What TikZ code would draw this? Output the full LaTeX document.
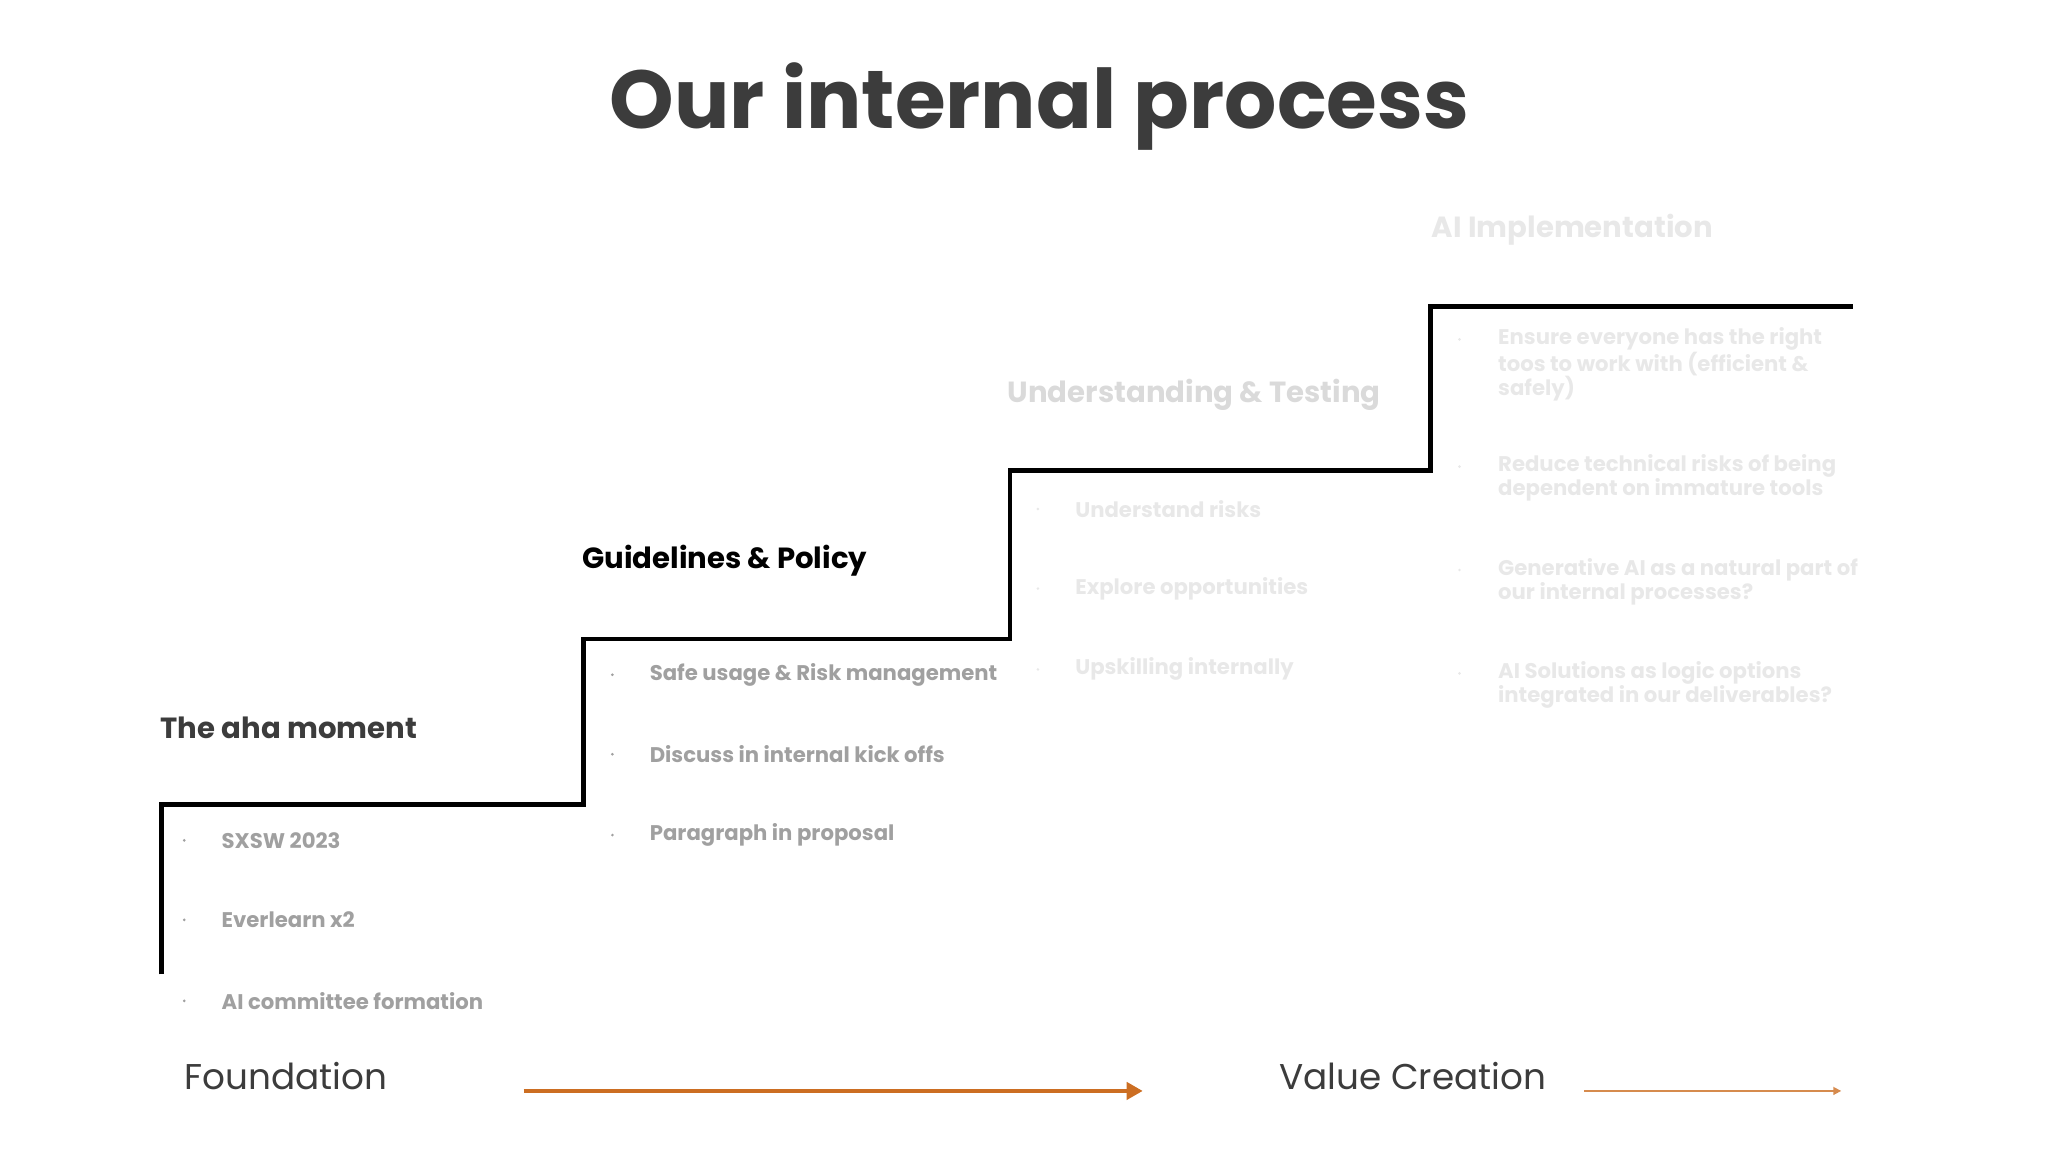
\documentclass[tikz,border=0pt]{standalone}
\usepackage{fontspec}
\setmainfont{Poppins}
\usetikzlibrary{arrows.meta}
\definecolor{dark}{HTML}{3C3C3C}
\definecolor{bul}{HTML}{A0A0A0}
\definecolor{lt}{HTML}{DADADA}
\definecolor{vlt}{HTML}{E8E8E8}
\definecolor{org}{HTML}{CC6E22}
\tikzset{
  head/.style={anchor=west,font=\fontsize{22}{26}\selectfont\bfseries,inner sep=0pt},
  item/.style={anchor=west,font=\fontsize{16}{18}\selectfont\bfseries,inner sep=0pt,align=left},
  dotm/.style={circle,inner sep=0pt,minimum size=2.2pt},
  lbl/.style={anchor=west,font=\fontsize{27}{30}\selectfont,text=dark,inner sep=0pt},
}
\begin{document}
\begin{tikzpicture}[x=1pt,y=-1pt]
\useasboundingbox (0,0) rectangle (1545,869);
\node (title) at (784,80) {\fontsize{62}{70}\selectfont\bfseries\color{dark}Our internal process};
% staircase
\coordinate (s0) at (122,735);
\coordinate (s1) at (122,607);
\coordinate (s2) at (440,607);
\coordinate (s3) at (440,482);
\coordinate (s4) at (762,482);
\coordinate (s5) at (762,355);
\coordinate (s6) at (1079,355);
\coordinate (s7) at (1079,231);
\coordinate (s8) at (1398,231);
\draw[line width=3.5pt] (s0)--(s1)--(s2)--(s3)--(s4)--(s5)--(s6)--(s7)--(s8);
% headings
\node[head,text=dark] (h1) at (121,549) {The aha moment};
\node[head,text=black] (h2) at (439,423) {Guidelines \& Policy};
\node[head,text=lt] (h3) at (760,298) {Understanding \& Testing};
\node[head,text=vlt] (h4) at (1080,173) {AI Implementation};
\foreach \t/\y [count=\i] in {SXSW 2023/634,Everlearn x2/694,AI committee formation/755}{
  \node[dotm,fill=bul] (d1\i) at (139,\y) {};
  \node[item,text=bul] (a1\i) at (167,\y) {\t};
}
\foreach \t/\y [count=\i] in {Safe usage \& Risk management/509,Discuss in internal kick offs/569,Paragraph in proposal/630}{
  \node[dotm,fill=bul] (d2\i) at (462,\y) {};
  \node[item,text=bul] (a2\i) at (490,\y) {\t};
}
\foreach \t/\y [count=\i] in {Understand risks/384,Explore opportunities/444,Upskilling internally/505}{
  \node[dotm,fill=vlt] (d3\i) at (783,\y) {};
  \node[item,text=vlt] (a3\i) at (811,\y) {\t};
}
\node[dotm,fill=vlt] (d41) at (1101,256) {};
\node[item,text=vlt,anchor=north west] (a41) at (1130,247) {Ensure everyone has the right\\toos to work with (efficient \&\\safely)};
\node[dotm,fill=vlt] (d42) at (1101,352) {};
\node[item,text=vlt,anchor=north west] (a42) at (1130,343) {Reduce technical risks of being\\dependent on immature tools};
\node[dotm,fill=vlt] (d43) at (1101,430) {};
\node[item,text=vlt,anchor=north west] (a43) at (1130,421) {Generative AI as a natural part of\\our internal processes?};
\node[dotm,fill=vlt] (d44) at (1101,508) {};
\node[item,text=vlt,anchor=north west] (a44) at (1130,499) {AI Solutions as logic options\\integrated in our deliverables?};
% bottom
\node[lbl] (found) at (139,812) {Foundation};
\node[lbl] (value) at (965,812) {Value Creation};
\coordinate (a1s) at (395,823); \coordinate (a1e) at (862,823);
\coordinate (a2s) at (1195,823); \coordinate (a2e) at (1389,823);
\draw[org,line width=2.5pt,-{Triangle[length=12pt,width=13pt]}] (a1s)--(a1e);
\draw[org!80,line width=1.2pt,-{Triangle[length=6pt,width=6pt]}] (a2s)--(a2e);
\end{tikzpicture}
\end{document}
